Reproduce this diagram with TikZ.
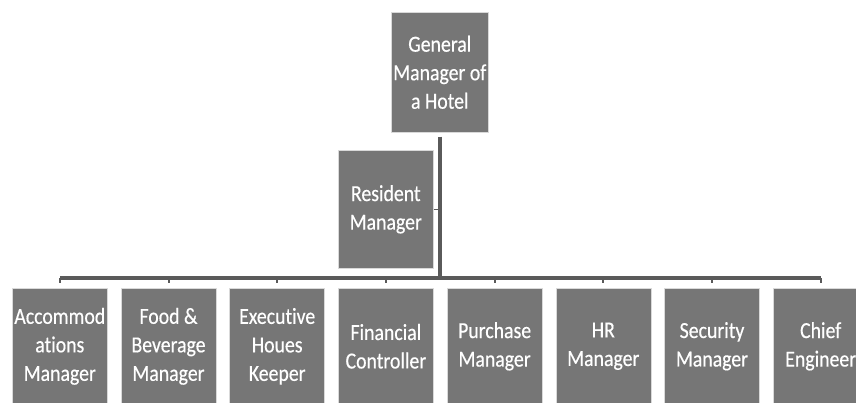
\documentclass[tikz,border=0pt]{standalone}
\usepackage{fontspec}
\setmainfont{Carlito}[FakeStretch=0.86, FakeBold=0.4, RawFeature={-liga}]
\begin{document}
\begin{tikzpicture}[x=1pt,y=-1pt,
  box/.style={fill=boxgray, draw=white!85!black, line width=0.6pt, inner sep=0pt,
    text=white, align=center, anchor=north west, minimum width=95pt,
    font=\fontsize{23}{28.5}\selectfont},
  conn/.style={draw=linegray, line width=3.5pt},
  stub/.style={draw=linegray, line width=2pt, shorten >=5pt}]
\definecolor{boxgray}{RGB}{118,118,118}
\definecolor{linegray}{RGB}{90,90,90}
\useasboundingbox (0,0) rectangle (856,403);
\node[box, minimum width=97pt, minimum height=120pt] (gm) at (391,12) {General\\Manager of\\a Hotel};
\node[box, minimum height=118pt] (rm) at (338,150) {Resident\\Manager};
\node[box, minimum height=116pt] (b1) at (12,288) {Accommod\\ations\\Manager};
\node[box, minimum height=116pt] (b2) at (120.7,288) {Food \&\\Beverage\\Manager};
\node[box, minimum height=116pt] (b3) at (229.4,288) {Executive\\Houes\\Keeper};
\node[box, minimum height=116pt] (b4) at (338.1,288) {Financial\\Controller};
\node[box, minimum height=116pt] (b5) at (446.8,288) {Purchase\\Manager};
\node[box, minimum height=116pt] (b6) at (555.5,288) {HR\\Manager};
\node[box, minimum height=116pt] (b7) at (664.2,288) {Security\\Manager};
\node[box, minimum height=116pt] (b8) at (772.9,288) {Chief\\Engineer};
\coordinate (busy) at (0,278);
\draw[conn, shorten <=4pt] (gm.south) -- (gm.south |- busy);
\draw[conn] (b1.north |- busy) -- (b8.north |- busy);
\foreach \i in {1,...,8} {\draw[stub] (b\i.north |- busy) -- (b\i.north);}
\draw[draw=linegray, line width=0.8pt] (rm.east) -- (rm.east -| gm.south);
\end{tikzpicture}
\end{document}
